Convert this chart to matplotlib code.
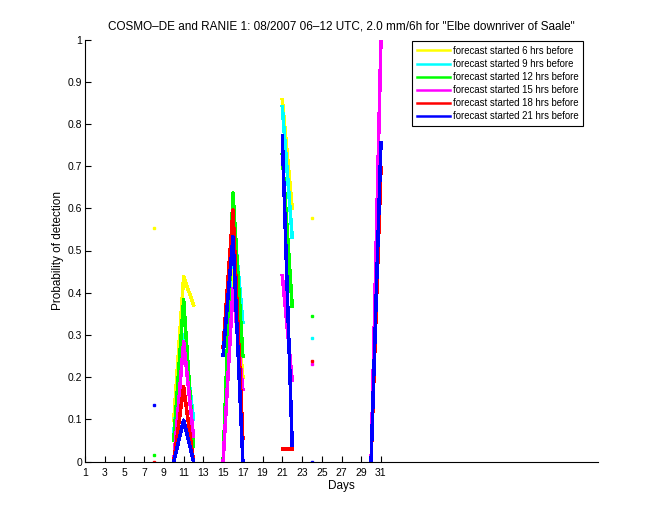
import numpy as np
import matplotlib
matplotlib.use('Agg')
import matplotlib.pyplot as plt

plt.rcParams['font.family'] = ['Liberation Sans', 'DejaVu Sans']

nan = np.nan
days = np.arange(1, 32)

labels = ['forecast started 6 hrs before', 'forecast started 9 hrs before',
          'forecast started 12 hrs before', 'forecast started 15 hrs before',
          'forecast started 18 hrs before', 'forecast started 21 hrs before']
colors = ['#ffff00', '#00ffff', '#00ff00', '#ff00ff', '#ff0000', '#0000ff']

# values per day (1..31), nan = no event
def series(vals):
    s = np.full(31, nan)
    for d, v in vals.items():
        s[d - 1] = v
    return s

pod_6h = series({8: 0.553, 10: 0.098, 11: 0.438, 12: 0.371, 15: 0.0, 16: 0.47, 17: 0.20,
                 21: 0.857, 22: 0.60, 24: 0.577})
pod_9h = series({10: 0.07, 11: 0.30, 12: 0.10, 15: 0.0, 16: 0.59, 17: 0.33,
                 21: 0.84, 22: 0.532, 24: 0.293})
pod_12h = series({8: 0.016, 10: 0.05, 11: 0.383, 12: 0.035, 15: 0.0, 16: 0.636, 17: 0.25,
                  21: 0.726, 22: 0.368, 24: 0.345})
pod_15h = series({10: 0.0, 11: 0.284, 12: 0.059, 15: 0.0, 16: 0.41, 17: 0.17,
                  21: 0.44, 22: 0.193, 24: 0.231, 30: 0.0, 31: 1.0})
pod_18h = series({8: 0.0, 10: 0.0, 11: 0.177, 12: 0.0, 15: 0.27, 16: 0.596, 17: 0.055,
                  21: 0.03, 22: 0.03, 24: 0.238, 30: 0.0, 31: 0.695})
pod_21h = series({8: 0.135, 10: 0.0, 11: 0.098, 12: 0.0, 15: 0.252, 16: 0.533, 17: 0.0,
                  21: 0.771, 22: 0.039, 24: 0.0, 30: 0.0, 31: 0.755})

all_series = [pod_6h, pod_9h, pod_12h, pod_15h, pod_18h, pod_21h]

fig = plt.figure(figsize=(6.6, 5.2), dpi=100)
ax = fig.add_axes([85/660, 1 - 461.5/520, (598-85)/660, (461.5-39.5)/520])

for s, c, lab in zip(all_series, colors, labels):
    ax.plot(days, s, color=c, lw=1.8, label=lab, antialiased=False)
    # single values between gaps show up as dots
    ok = ~np.isnan(s)
    prev = np.r_[False, ok[:-1]]
    nxt = np.r_[ok[1:], False]
    iso = ok & ~prev & ~nxt
    ax.plot(days[iso], s[iso], ls='none', marker='s', ms=1.6, mec=c, mfc=c,
            antialiased=False)

ax.set_xlim(1, 53)
ax.set_ylim(0, 1)
ax.set_xticks(np.arange(1, 32, 2))
ax.set_yticks(np.arange(0, 1.01, 0.1))
ax.set_yticklabels(['0', '0.1', '0.2', '0.3', '0.4', '0.5', '0.6', '0.7', '0.8', '0.9', '1'])
ax.tick_params(direction='in', length=4, width=0.8, labelsize=7.5, pad=2)
ax.tick_params(axis='x', pad=5)
for sp in ['top', 'right']:
    ax.spines[sp].set_visible(False)
ax.set_xlabel('Days', fontsize=8.5, labelpad=1)
ax.set_ylabel('Probability of detection', fontsize=8.5, labelpad=3)
ax.set_title('COSMO\u2013DE and RANIE 1: 08/2007 06\u201312 UTC, 2.0 mm/6h for "Elbe downriver of Saale"',
             fontsize=8.5, pad=7)

leg = ax.legend(loc='upper right', bbox_to_anchor=(583/660, 1 - 41/520),
                bbox_transform=fig.transFigure, fontsize=6.9, handlelength=3.4,
                labelspacing=0.32, borderpad=0.5, handletextpad=0.3,
                borderaxespad=0, fancybox=False, framealpha=1, edgecolor='black')
leg.get_frame().set_linewidth(0.8)

fig.savefig('out.png', dpi=100)
